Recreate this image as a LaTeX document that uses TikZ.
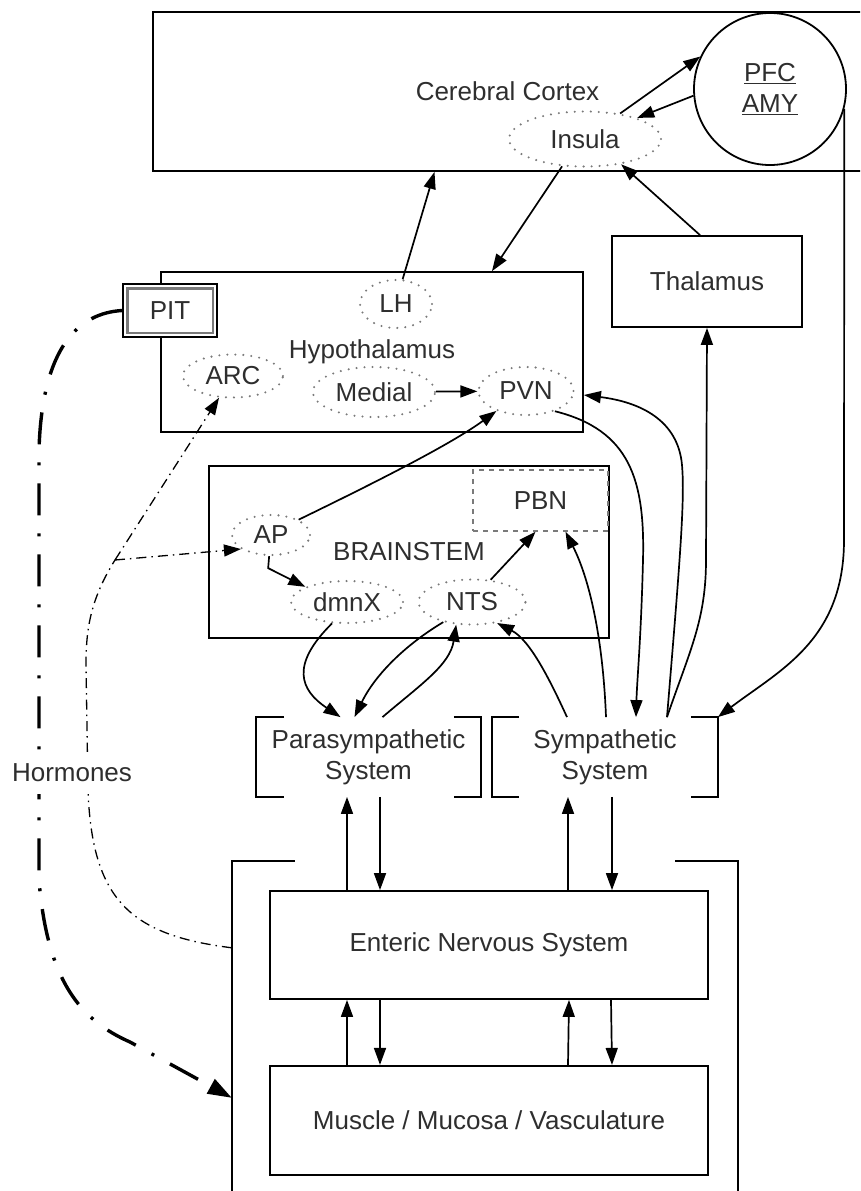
\documentclass[tikz,border=0pt]{standalone}
\usepackage{fontspec}
\setmainfont{Liberation Sans}
\usetikzlibrary{arrows.meta,positioning,shapes.geometric,calc}
\definecolor{cText}{HTML}{2E2E2E}
\definecolor{cDot}{HTML}{7A7A7A}
\tikzset{
  >={Triangle[length=17pt,width=12pt]},
  box/.style  ={draw,line width=1.8pt,text=cText,align=center,inner sep=0pt,
                font=\fontsize{26}{31}\selectfont},
  bare/.style ={box,draw=none},
  nuc/.style  ={box,ellipse,draw=cDot,line width=2.3pt,
                dash pattern=on 0pt off 8pt,line cap=round},
  pbox/.style ={box,draw=cDot,line width=1.4pt,dash pattern=on 5pt off 5pt},
  brk/.style  ={line width=1.8pt},
  ar/.style   ={->,line width=1.7pt},
  harb/.style ={->,>={Triangle[length=24pt,width=16pt]},line width=3.4pt,
                dash pattern=on 32pt off 18pt on 3pt off 18pt},
  har/.style  ={->,line width=1.3pt,dash pattern=on 10pt off 5pt on 1.5pt off 5pt},
  lbl/.style  ={text=cText,fill=white,inner xsep=2pt,inner ysep=12pt,
                font=\fontsize{26}{31}\selectfont},
}
\begin{document}
\begin{tikzpicture}[x=1pt,y=-1pt]
\useasboundingbox (0,0) rectangle (860,1191);
\clip (0,0) rectangle (860,1191);

% cortex
\node[box,minimum width=709pt,minimum height=159pt] (cortex) at (507.5,91.5) {Cerebral Cortex};
\node[nuc,minimum width=152pt,minimum height=55pt] (insula) at (585,139) {Insula};
\node[box,circle,minimum size=152pt] (pfc) at (770,89) {\underline{PFC}\\\underline{AMY}};
\node[box,minimum width=190pt,minimum height=91pt] (thal) at (707,281.5) {Thalamus};

% hypothalamus
\node[box,minimum width=422pt,minimum height=160pt] (hypo) at (372,352) {Hypothalamus};
\node[nuc,minimum width=72pt,minimum height=48pt] (lh) at (396,304) {LH};
\node[nuc,minimum width=100pt,minimum height=43pt] (arc) at (233,376) {ARC};
\node[nuc,minimum width=122pt,minimum height=50pt] (medial) at (374,392) {Medial};
\node[nuc,minimum width=95pt,minimum height=48pt] (pvn) at (526,391) {PVN};
\node[box,fill=white,minimum width=94pt,minimum height=53pt] (pit) at (170,310.5) {PIT};
\draw[line width=2.8pt,cDot] ([shift={(5pt,-5pt)}]pit.north west) rectangle ([shift={(-5pt,5pt)}]pit.south east);

% brainstem
\node[box,minimum width=400pt,minimum height=172pt] (bs) at (409,552) {BRAINSTEM};
\node[pbox,minimum width=135pt,minimum height=61pt] (pbn) at (540.5,500.5) {PBN};
\node[nuc,minimum width=78pt,minimum height=40pt] (ap) at (271,535) {AP};
\node[nuc,minimum width=112pt,minimum height=42pt] (dmnx) at (347,602) {dmnX};
\node[nuc,minimum width=107pt,minimum height=45pt] (nts) at (472,602) {NTS};

% autonomic
\node[bare,minimum width=223pt,minimum height=78pt] (ps) at (368.5,757) {Parasympathetic\\System};
\node[bare,minimum width=224pt,minimum height=78pt] (sym) at (605,757) {Sympathetic\\System};
\draw[brk] ([xshift=28pt]ps.north west) -| (ps.south west) -- ++(28,0);
\draw[brk] ([xshift=-27pt]ps.north east) -| (ps.south east) -- ++(-27,0);
\draw[brk] ([xshift=27pt]sym.north west) -| (sym.south west) -- ++(27,0);
\draw[brk] ([xshift=-27pt]sym.north east) -| (sym.south east) -- ++(-27,0);

% gut
\node[minimum width=506pt,minimum height=400pt] (gut) at (485,1061) {};
\draw[brk] ([xshift=63pt]gut.north west) -| (gut.south west);
\draw[brk] ([xshift=-63pt]gut.north east) -| (gut.south east);
\node[box,minimum width=438pt,minimum height=108pt] (ens) at (489,945) {Enteric Nervous System};
\node[box,minimum width=438pt,minimum height=109pt,below=65pt of ens] (mus) {Muscle / Mucosa / Vasculature};

% cortex links
\draw[ar] (insula.36) -- (pfc.155);
\draw[ar] (pfc.185) -- (insula.22);
\draw[ar] (lh.75) -- ([xshift=-73pt]cortex.south);
\draw[ar] (insula.-130) -- ([xshift=120pt]hypo.north);
\draw[ar] ([xshift=-7pt]thal.north) -- (insula.-35);
\draw[ar] (medial) -- (pvn);

% brainstem links
\draw[ar] (ap.29) .. controls (370,485) and (450,445) .. (pvn.214);
\draw[ar] (ap.-95) -- ++(-1,12) -- (dmnx.160);
\draw[ar] (nts.50) -- ([xshift=-5pt]pbn.south);
\draw[ar] (dmnx.-125) .. controls (290,665) and (300,690) .. ([xshift=-28pt]ps.north);
\draw[ar] (nts.-145) .. controls (405,645) and (375,675) .. ([xshift=-14pt]ps.north);
\draw[ar] ([xshift=14pt]ps.north) .. controls (420,685) and (450,665) .. (nts.-125);
\draw[ar] ([xshift=-38pt]sym.north) .. controls (550,680) and (530,640) .. (nts.-40);
\draw[ar] ([xshift=1pt]sym.north) .. controls (603,640) and (590,580) .. ([xshift=25pt]pbn.south);

% sympathetic links
\draw[ar] (pvn.-35) .. controls (630,430) and (645,480) .. (643,560)
          .. controls (641,640) and (637,680) .. ([xshift=31pt]sym.north);
\draw[ar] ([xshift=62pt]sym.north) .. controls (680,560) and (685,500) .. (682,465)
          .. controls (678,420) and (640,402) .. ([yshift=-43pt]hypo.east);
\draw[ar] ([xshift=62pt]sym.north) .. controls (690,650) and (706,620) .. (706,560) -- (thal.south);
\draw[ar] (pfc.-15) -- (844,540) .. controls (844,640) and (780,670) .. (sym.north east);

% gut links
\draw[ar] ([xshift=-142pt]ens.north) -- ([xshift=-142pt]ens.north |- ps.south);
\draw[ar] ([xshift=11.5pt]ps.south) -- ([xshift=11.5pt]ps.south |- ens.north);
\draw[ar] ([xshift=79pt]ens.north) -- ([xshift=79pt]ens.north |- sym.south);
\draw[ar] ([xshift=7pt]sym.south) -- ([xshift=7pt]sym.south |- ens.north);
\draw[ar] ([xshift=-142pt]mus.north) -- ([xshift=-142pt]ens.south);
\draw[ar] ([xshift=-109pt]ens.south) -- ([xshift=-109pt]mus.north);
\draw[ar] ([xshift=79pt]mus.north) -- ([xshift=80pt]ens.south);
\draw[ar] ([xshift=122pt]ens.south) -- ([xshift=123pt]mus.north);

% hormones
\coordinate (h1) at ([yshift=-87pt]gut.north west);
\coordinate (h2) at ([yshift=-237pt]gut.north west);
\coordinate (j) at (115,560);
\draw[harb] (pit.west) .. controls (80,313) and (42,345) .. (39,450) -- (39,880)
            .. controls (47,980) and (80,1020) .. (130,1042) -- (h2);
\draw[har] (j) -- (arc);
\draw[har] (j) -- (ap.205);
\draw[har,-] (h1) .. controls (130,935) and (92,900) .. (88,790) -- (86,665)
             .. controls (86,630) and (90,600) .. (j);
\node[lbl] (hor) at (72,773) {Hormones};
\end{tikzpicture}
\end{document}
